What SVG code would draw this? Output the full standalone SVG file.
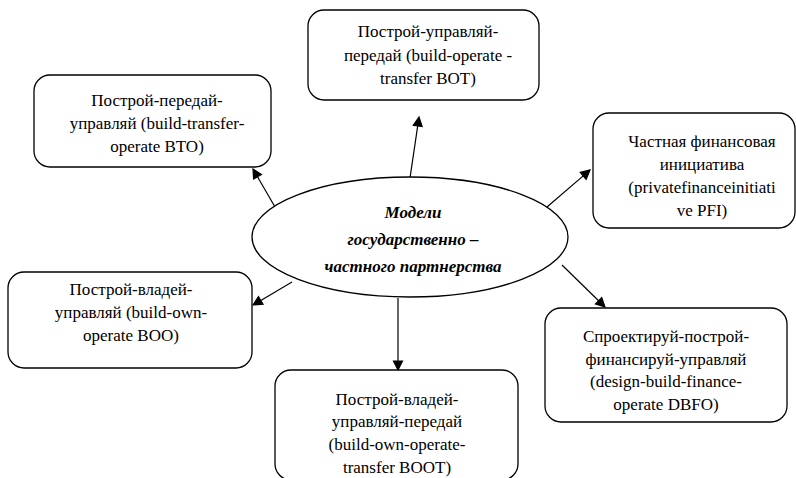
<svg xmlns="http://www.w3.org/2000/svg" width="796" height="478" viewBox="0 0 796 478">
<rect width="796" height="478" fill="#fff"/>
<g id="connectors" stroke="#000" stroke-width="1.2" fill="#000">
<line x1="410" y1="178" x2="417.7" y2="125.9"/>
<polygon points="419,117 422.14,126.56 413.24,125.24"/>
<line x1="275" y1="207" x2="257.5" y2="176.8"/>
<polygon points="253,169 261.41,174.54 253.61,179.04"/>
<line x1="547" y1="207" x2="583.2" y2="175.9"/>
<polygon points="590,170 586.11,179.28 580.25,172.46"/>
<line x1="292" y1="282" x2="260.8" y2="300.4"/>
<polygon points="253,305 263.04,304.3 258.46,296.56"/>
<line x1="562" y1="265" x2="598.6" y2="300.7"/>
<polygon points="605,307 595.41,303.93 601.71,297.49"/>
<line x1="398" y1="298" x2="398" y2="361"/>
<polygon points="398,370 393.5,361 402.5,361"/>
</g>
<g id="center">
<ellipse cx="410" cy="237" rx="158" ry="60" fill="#fff" stroke="#000" stroke-width="1.3"/>
<text x="413" y="218" font-family="'Liberation Serif', 'Times New Roman', Tinos, serif" font-size="17" font-weight="bold" font-style="italic" text-anchor="middle">Модели</text>
<text x="413" y="245" font-family="'Liberation Serif', 'Times New Roman', Tinos, serif" font-size="17" font-weight="bold" font-style="italic" text-anchor="middle">государственно –</text>
<text x="413" y="272" font-family="'Liberation Serif', 'Times New Roman', Tinos, serif" font-size="17" font-weight="bold" font-style="italic" text-anchor="middle">частного партнерства</text>
</g>
<g id="bot">
<rect x="308" y="10" width="231" height="90" rx="16" fill="#fff" stroke="#000" stroke-width="1.3"/>
<text x="428" y="37" font-family="'Liberation Serif', 'Times New Roman', Tinos, serif" font-size="17" text-anchor="middle">Построй-управляй-</text>
<text x="428" y="61" font-family="'Liberation Serif', 'Times New Roman', Tinos, serif" font-size="17" text-anchor="middle">передай (build-operate -</text>
<text x="428" y="84" font-family="'Liberation Serif', 'Times New Roman', Tinos, serif" font-size="17" text-anchor="middle">transfer BOT)</text>
</g>
<g id="bto">
<rect x="34" y="75" width="237" height="92" rx="16" fill="#fff" stroke="#000" stroke-width="1.3"/>
<text x="157" y="106" font-family="'Liberation Serif', 'Times New Roman', Tinos, serif" font-size="17" text-anchor="middle">Построй-передай-</text>
<text x="157" y="129" font-family="'Liberation Serif', 'Times New Roman', Tinos, serif" font-size="17" text-anchor="middle">управляй (build-transfer-</text>
<text x="157" y="152" font-family="'Liberation Serif', 'Times New Roman', Tinos, serif" font-size="17" text-anchor="middle">operate BTO)</text>
</g>
<g id="pfi">
<rect x="593" y="113" width="202" height="115" rx="16" fill="#fff" stroke="#000" stroke-width="1.3"/>
<text x="702" y="147" font-family="'Liberation Serif', 'Times New Roman', Tinos, serif" font-size="17" text-anchor="middle">Частная финансовая</text>
<text x="702" y="170" font-family="'Liberation Serif', 'Times New Roman', Tinos, serif" font-size="17" text-anchor="middle">инициатива</text>
<text x="702" y="193" font-family="'Liberation Serif', 'Times New Roman', Tinos, serif" font-size="17" text-anchor="middle">(privatefinanceinitiati</text>
<text x="702" y="216" font-family="'Liberation Serif', 'Times New Roman', Tinos, serif" font-size="17" text-anchor="middle">ve PFI)</text>
</g>
<g id="boo">
<rect x="8" y="272" width="244" height="96" rx="16" fill="#fff" stroke="#000" stroke-width="1.3"/>
<text x="131" y="295" font-family="'Liberation Serif', 'Times New Roman', Tinos, serif" font-size="17" text-anchor="middle">Построй-владей-</text>
<text x="131" y="318" font-family="'Liberation Serif', 'Times New Roman', Tinos, serif" font-size="17" text-anchor="middle">управляй (build-own-</text>
<text x="131" y="341" font-family="'Liberation Serif', 'Times New Roman', Tinos, serif" font-size="17" text-anchor="middle">operate BOO)</text>
</g>
<g id="dbfo">
<rect x="545" y="308" width="242" height="114" rx="16" fill="#fff" stroke="#000" stroke-width="1.3"/>
<text x="666" y="342" font-family="'Liberation Serif', 'Times New Roman', Tinos, serif" font-size="17" text-anchor="middle">Спроектируй-построй-</text>
<text x="666" y="365" font-family="'Liberation Serif', 'Times New Roman', Tinos, serif" font-size="17" text-anchor="middle">финансируй-управляй</text>
<text x="666" y="387" font-family="'Liberation Serif', 'Times New Roman', Tinos, serif" font-size="17" text-anchor="middle">(design-build-finance-</text>
<text x="666" y="410" font-family="'Liberation Serif', 'Times New Roman', Tinos, serif" font-size="17" text-anchor="middle">operate DBFO)</text>
</g>
<g id="boot">
<rect x="275" y="370" width="243" height="110" rx="16" fill="#fff" stroke="#000" stroke-width="1.3"/>
<text x="397" y="405" font-family="'Liberation Serif', 'Times New Roman', Tinos, serif" font-size="17" text-anchor="middle">Построй-владей-</text>
<text x="397" y="427" font-family="'Liberation Serif', 'Times New Roman', Tinos, serif" font-size="17" text-anchor="middle">управляй-передай</text>
<text x="397" y="450" font-family="'Liberation Serif', 'Times New Roman', Tinos, serif" font-size="17" text-anchor="middle">(build-own-operate-</text>
<text x="397" y="473" font-family="'Liberation Serif', 'Times New Roman', Tinos, serif" font-size="17" text-anchor="middle">transfer BOOT)</text>
</g>
</svg>
